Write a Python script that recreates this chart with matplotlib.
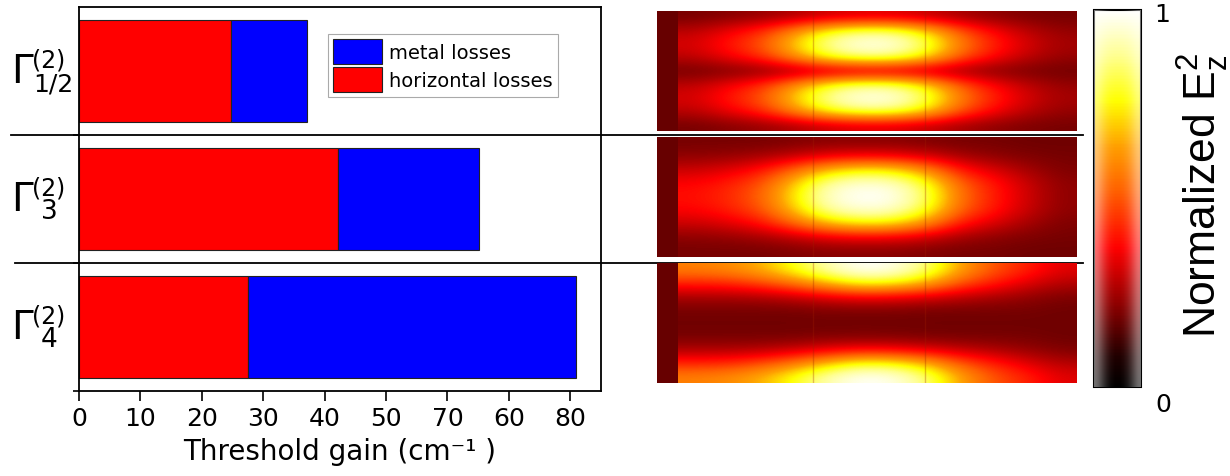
import numpy as np
import matplotlib
matplotlib.use('Agg')
import matplotlib.pyplot as plt
from matplotlib.colors import LinearSegmentedColormap, Normalize
from matplotlib.cm import ScalarMappable
from matplotlib.transforms import blended_transform_factory

# threshold gain of the three modes (cm^-1)
modes = ['1/2', '3', '4']          # subscripts of Gamma^(2)
horizontal_losses = [24.8, 42.1, 27.6]
metal_losses = [12.4, 23.0, 53.3]
xtick_values = [0, 10, 20, 30, 40, 50, 60, 70, 80]
xtick_labels = ['0', '10', '20', '30', '40', '50', '70', '60', '80']  # as printed

# normalized E_z^2 maps, coarse grid (rows top -> bottom)
field_half = [
    [0.19, 0.21, 0.23, 0.26, 0.30, 0.32, 0.32, 0.29, 0.25, 0.22, 0.20, 0.19],
    [0.28, 0.35, 0.43, 0.60, 0.78, 0.86, 0.85, 0.72, 0.50, 0.37, 0.28, 0.23],
    [0.32, 0.40, 0.50, 0.70, 0.90, 0.99, 0.98, 0.84, 0.58, 0.42, 0.32, 0.25],
    [0.28, 0.35, 0.43, 0.60, 0.78, 0.86, 0.85, 0.72, 0.50, 0.37, 0.28, 0.23],
    [0.18, 0.19, 0.20, 0.22, 0.24, 0.25, 0.25, 0.24, 0.22, 0.20, 0.19, 0.18],
    [0.28, 0.35, 0.43, 0.60, 0.78, 0.86, 0.85, 0.72, 0.50, 0.37, 0.28, 0.23],
    [0.32, 0.40, 0.50, 0.70, 0.90, 0.99, 0.98, 0.84, 0.58, 0.42, 0.32, 0.25],
    [0.28, 0.35, 0.43, 0.60, 0.78, 0.86, 0.85, 0.72, 0.50, 0.37, 0.28, 0.23],
    [0.19, 0.21, 0.23, 0.26, 0.30, 0.32, 0.32, 0.29, 0.25, 0.22, 0.20, 0.19],
]
field_3 = [
    [0.19, 0.19, 0.19, 0.20, 0.21, 0.21, 0.21, 0.20, 0.19, 0.19, 0.18, 0.18],
    [0.22, 0.23, 0.25, 0.29, 0.34, 0.36, 0.35, 0.31, 0.25, 0.22, 0.20, 0.19],
    [0.30, 0.33, 0.39, 0.53, 0.68, 0.75, 0.73, 0.60, 0.40, 0.32, 0.25, 0.20],
    [0.37, 0.41, 0.49, 0.69, 0.90, 0.96, 0.94, 0.79, 0.52, 0.40, 0.30, 0.22],
    [0.39, 0.43, 0.52, 0.74, 0.95, 1.00, 0.99, 0.84, 0.55, 0.41, 0.31, 0.22],
    [0.37, 0.41, 0.49, 0.69, 0.90, 0.96, 0.94, 0.79, 0.52, 0.40, 0.30, 0.22],
    [0.30, 0.33, 0.39, 0.53, 0.68, 0.75, 0.73, 0.60, 0.40, 0.32, 0.25, 0.20],
    [0.22, 0.23, 0.25, 0.29, 0.34, 0.36, 0.35, 0.31, 0.25, 0.22, 0.20, 0.19],
    [0.19, 0.19, 0.19, 0.20, 0.21, 0.21, 0.21, 0.20, 0.19, 0.19, 0.18, 0.18],
]
field_4 = [
    [0.58, 0.60, 0.66, 0.78, 0.92, 1.00, 0.98, 0.86, 0.64, 0.50, 0.42, 0.33],
    [0.42, 0.43, 0.48, 0.56, 0.68, 0.78, 0.76, 0.66, 0.50, 0.41, 0.33, 0.27],
    [0.26, 0.26, 0.27, 0.30, 0.34, 0.37, 0.36, 0.33, 0.29, 0.26, 0.23, 0.20],
    [0.19, 0.19, 0.19, 0.19, 0.20, 0.20, 0.20, 0.19, 0.19, 0.19, 0.19, 0.18],
    [0.18, 0.18, 0.18, 0.18, 0.18, 0.18, 0.18, 0.18, 0.18, 0.18, 0.18, 0.18],
    [0.19, 0.19, 0.19, 0.19, 0.20, 0.20, 0.20, 0.19, 0.19, 0.19, 0.19, 0.18],
    [0.26, 0.26, 0.27, 0.30, 0.34, 0.37, 0.36, 0.33, 0.29, 0.26, 0.23, 0.20],
    [0.42, 0.43, 0.48, 0.56, 0.68, 0.78, 0.76, 0.66, 0.50, 0.41, 0.33, 0.27],
    [0.58, 0.60, 0.66, 0.78, 0.92, 1.00, 0.98, 0.86, 0.64, 0.50, 0.42, 0.33],
]
strip_level = 0.17
interface_x = [0.373, 0.64]

# colour scale of the maps
cmap_stops = [0.0, 0.08, 0.2, 0.37, 0.52, 0.64, 0.76, 0.88, 1.0]
cmap_colors = ['#000000', '#200000', '#800000', '#ff0000', '#ff6000',
               '#ffa000', '#ffff00', '#ffff90', '#ffffff']
cbar_shade = [0.45, 0.22, 0.06, 0.0, 0.0, 0.06, 0.22, 0.45]

plt.rcParams['font.family'] = 'DejaVu Sans'
cmap = LinearSegmentedColormap.from_list('field', list(zip(cmap_stops, cmap_colors)))
norm = Normalize(0, 1)

W, H = 1230, 477
fig = plt.figure(figsize=(W / 100, H / 100), dpi=100)


def box(l, t, r, b):
    return [l / W, 1 - b / H, (r - l) / W, (b - t) / H]


# ---- bar chart ----
ax = fig.add_axes(box(79, 8, 601, 392))
rows = np.arange(len(modes))
ax.barh(rows, horizontal_losses, height=0.8, color='#ff0000',
        edgecolor='#222222', linewidth=0.8, label='horizontal losses')
ax.barh(rows, metal_losses, left=horizontal_losses, height=0.8, color='#0000ff',
        edgecolor='#222222', linewidth=0.8, label='metal losses')
ax.set_xlim(0, 85)
ax.set_ylim(2.5, -0.5)
ax.set_xticks(xtick_values)
ax.set_xticklabels(xtick_labels, fontsize=18)
ax.set_yticks([0.5, 1.5, 2.5])
ax.set_yticklabels([])
ax.tick_params(axis='x', direction='out', length=7, width=1.2, pad=4)
ax.tick_params(axis='y', direction='out', length=4, width=1.2)
for s in ax.spines.values():
    s.set_linewidth(1.3)
ax.set_xlabel('Threshold gain (cm⁻¹ )', fontsize=20, labelpad=5)

handles, labels = ax.get_legend_handles_labels()
leg = ax.legend(handles[::-1], labels[::-1], loc='upper left',
                bbox_to_anchor=(0.477, 0.930), borderaxespad=0, fontsize=14,
                handlelength=2.55, handleheight=1.6, handletextpad=0.36,
                labelspacing=0.18, borderpad=0.25, fancybox=False,
                framealpha=1, edgecolor='#aaaaaa')
leg.get_frame().set_linewidth(0.8)

# row separators running across the whole figure
ax.axhline(0.5, xmin=(11 - 79) / 522, xmax=(1083 - 79) / 522,
           color='black', lw=1.3, clip_on=False)
ax.axhline(1.5, xmin=(15 - 79) / 522, xmax=(1083 - 79) / 522,
           color='black', lw=1.3, clip_on=False)

# mode labels
trans = blended_transform_factory(fig.transFigure, ax.transData)
for i, sub in enumerate(modes):
    ax.text(11 / W, i, 'Γ', transform=trans, fontsize=28, ha='left', va='center')
    ax.text(32 / W, i - 0.09, '(2)', transform=trans, fontsize=17,
            ha='left', va='center')
    if len(sub) > 1:
        ax.text(33 / W, i + 0.095, sub, transform=trans, fontsize=18,
                ha='left', va='center')
    else:
        ax.text(41 / W, i + 0.09, sub, transform=trans, fontsize=19,
                ha='left', va='center')

# ---- field maps ----
for field, top in zip([field_half, field_3, field_4], [12, 138, 264]):
    hax = fig.add_axes(box(657, top, 1076, top + 120))
    hax.axvspan(0, 0.05, color=cmap(strip_level), lw=0)
    hax.imshow(np.array(field), cmap=cmap, norm=norm, extent=(0.05, 1, 0, 1),
               aspect='auto', interpolation='bicubic')
    for xv in interface_x:
        hax.axvline(xv, color='#a02000', alpha=0.3, lw=1.0)
    hax.set_xlim(0, 1)
    hax.set_ylim(0, 1)
    hax.axis('off')

# ---- colour bar ----
cax = fig.add_axes(box(1094, 11, 1141, 388))
cb = fig.colorbar(ScalarMappable(norm=norm, cmap=cmap), cax=cax)
cb.set_ticks([])
cb.outline.set_linewidth(1.5)
shade = np.ones((1, len(cbar_shade), 4))
shade[0, :, 3] = cbar_shade
cax.imshow(shade, extent=(0, 1, 0, 1), aspect='auto', interpolation='bicubic', zorder=3)
cax.set_xlim(0, 1)
cax.set_ylim(0, 1)

fig.text(1162 / W, 1 - 15 / H, '1', fontsize=18, ha='center', va='center')
fig.text(1163 / W, 1 - 405 / H, '0', fontsize=18, ha='center', va='center')
fig.text(1203 / W, 1 - 195 / H, r'Normalized E$_\mathregular{z}^\mathregular{2}$',
         rotation=90, fontsize=32, family='Liberation Sans', ha='center', va='center')

fig.savefig('out.png', dpi=100)
